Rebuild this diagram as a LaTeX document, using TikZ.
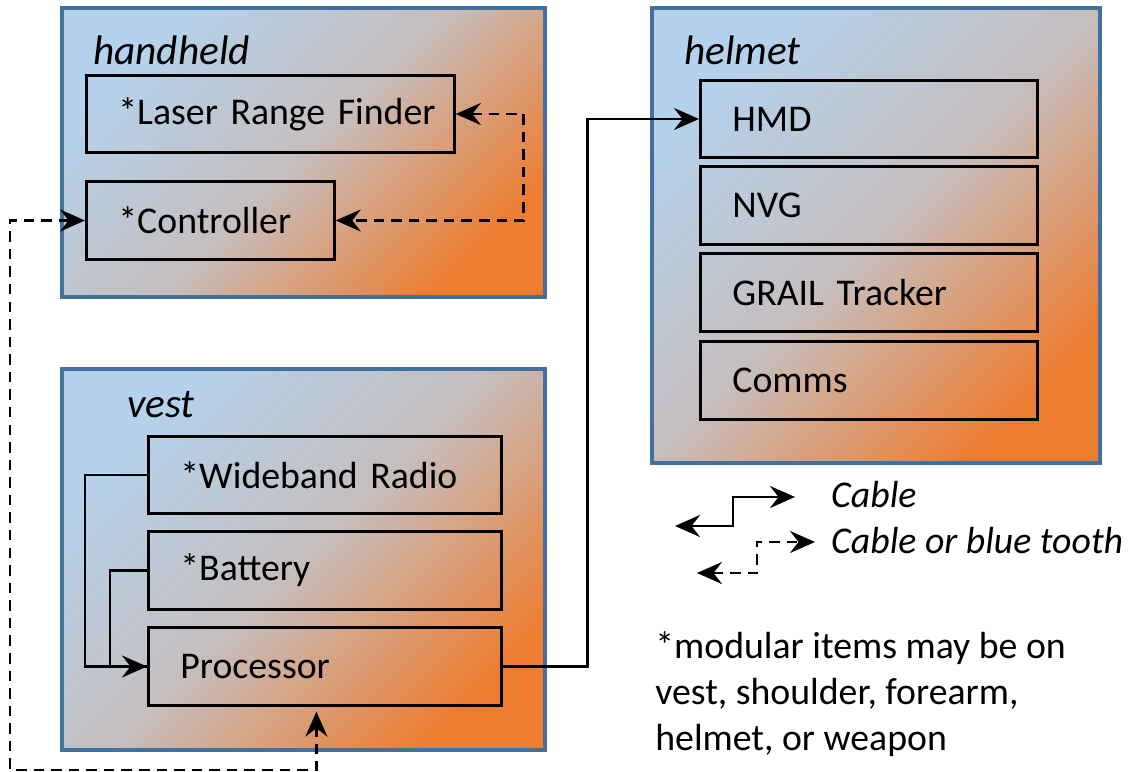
\documentclass[tikz,border=0pt]{standalone}
\usepackage{fontspec}
\setmainfont{Carlito}
\usetikzlibrary{arrows.meta}

\definecolor{frameblue}{RGB}{65,113,156}
\definecolor{skyblue}{RGB}{180,210,237}
\definecolor{midgray}{RGB}{198,190,190}
\definecolor{warmorange}{RGB}{237,125,49}

\begin{document}
\begin{tikzpicture}[
    unit/.style={draw=frameblue, line width=2pt, top color=skyblue, bottom color=warmorange, middle color=midgray, shading angle=45},
    unitlabel/.style={anchor=west, font=\fontsize{23.5}{28}\selectfont\itshape},
    part/.style={draw, line width=1.6pt, anchor=west, align=left, inner xsep=0.64cm, minimum height=1.55cm, font=\fontsize{21.5}{26}\selectfont},
    tip/.tip={Stealth[length=0.5cm, width=0.44cm, inset=0.17cm]},
    cable/.style={line width=1.6pt, tip-tip},
    bt/.style={cable, dash pattern=on 6pt off 4pt},
    tipend/.style={line width=1.6pt, -tip}
  ]
    \useasboundingbox (0,0) rectangle (22.62,15.44);

    % Units (shaded frames)
    \node[unit, minimum width=9.66cm, minimum height=5.78cm] (handheld) at (6.07,12.39) {};
    \node[unit, minimum width=8.96cm, minimum height=9.10cm] (helmet) at (17.52,10.73) {};
    \node[unit, minimum width=9.66cm, minimum height=7.62cm] (vest) at (6.07,4.25) {};

    \node[unitlabel] (handheldlbl) at (1.74,14.44) {handheld};
    \node[unitlabel] (helmetlbl) at (13.56,14.44) {helmet};
    \node[unitlabel] (vestlbl) at (2.42,7.34) {vest};

    % Parts in handheld
    \node[part, text width=6.08cm] (laser) at (1.7,13.16) {\mbox{*Laser Range Finder}};
    \node[part, text width=3.68cm] (ctrl) at (1.7,11.03) {*Controller};

    % Parts in helmet
    \node[part, text width=5.46cm] (hmd) at (13.98,13.06) {HMD};
    \node[part, text width=5.46cm] (nvg) at (13.98,11.33) {NVG};
    \node[part, text width=5.46cm] (grail) at (13.98,9.59) {GRAIL Tracker};
    \node[part, text width=5.46cm] (comms) at (13.98,7.83) {Comms};

    % Parts in vest
    \node[part, text width=5.78cm] (radio) at (2.94,5.94) {*Wideband Radio};
    \node[part, text width=5.78cm] (battery) at (2.94,4.03) {*Battery};
    \node[part, text width=5.78cm] (proc) at (2.94,2.11) {Processor};

    % Connections
    \draw[tipend] (proc.east) -- ++(1.7,0) |- (hmd.west);
    \draw[tipend] (radio.west) -- ++(-1.24,0) |- (proc.west);
    \draw[line width=1.6pt] (battery.west) -- ++(-0.74,0) |- (proc.west);
    \draw[bt] (laser.east) -- ++(1.36,0) |- (ctrl.east);
    \draw[bt] (ctrl.west) -| (0.2,0.04) -| ([xshift=-0.17cm, yshift=-0.1cm]proc.south);

    % Legend
    \coordinate (cabA) at (13.5,4.92);
    \coordinate (cabB) at (15.9,5.5);
    \coordinate (btA) at (13.94,3.98);
    \coordinate (btB) at (16.3,4.6);
    \draw[cable] (cabA) -| (14.66,5.21) |- (cabB);
    \draw[bt] (btA) -| (15.14,4.29) |- (btB);
    \node[anchor=west, font=\fontsize{21.5}{26}\selectfont\itshape] (cablelbl) at (16.5,5.54) {Cable};
    \node[anchor=west, font=\fontsize{21.5}{26}\selectfont\itshape] (btlbl) at (16.5,4.62) {Cable or blue tooth};

    % Note
    \node[anchor=west, align=left, inner sep=0pt, font=\fontsize{21.5}{26.2}\selectfont] (note) at (13.1,1.56) {*modular items may be on\\vest, shoulder, forearm,\\helmet, or weapon};
\end{tikzpicture}
\end{document}
